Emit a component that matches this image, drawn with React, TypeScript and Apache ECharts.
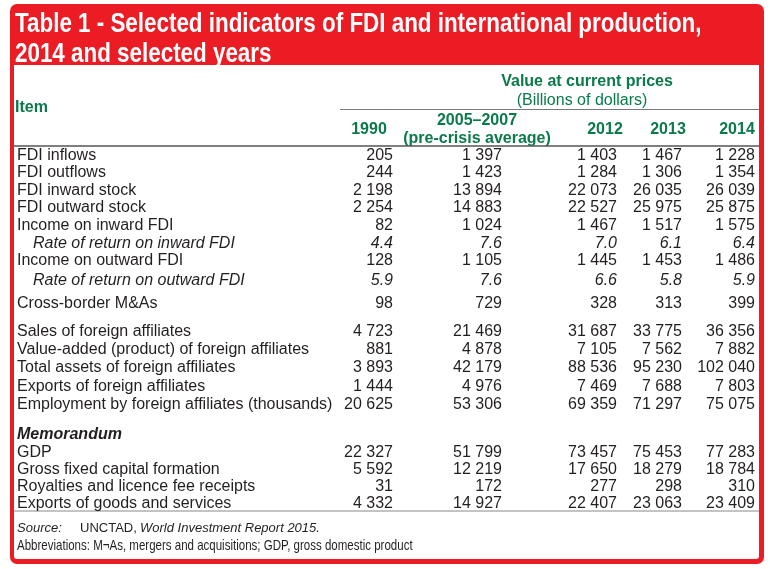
import React, { useEffect, useRef } from "react";
import * as echarts from "echarts";

// ---------- data ----------
const titleLines = [
  "Table 1 - Selected indicators of FDI and international production,",
  "2014 and selected years",
];
const columnHeaders = ["1990", "2005–2007\n(pre-crisis average)", "2012", "2013", "2014"];
const items = [
  "FDI inflows",
  "FDI outflows",
  "FDI inward stock",
  "FDI outward stock",
  "Income on inward FDI",
  "Rate of return on inward FDI",
  "Income on outward FDI",
  "Rate of return on outward FDI",
  "Cross-border M&As",
  "Sales of foreign affiliates",
  "Value-added (product) of foreign affiliates",
  "Total assets of foreign affiliates",
  "Exports of foreign affiliates",
  "Employment by foreign affiliates (thousands)",
  "Memorandum",
  "GDP",
  "Gross fixed capital formation",
  "Royalties and licence fee receipts",
  "Exports of goods and services",
];
// row kinds: n = normal, r = rate (italic, indented, 1 decimal), h = heading
const rowKinds = ["n", "n", "n", "n", "n", "r", "n", "r", "n", "n", "n", "n", "n", "n", "h", "n", "n", "n", "n"];
const v1990 = [205, 244, 2198, 2254, 82, 4.4, 128, 5.9, 98, 4723, 881, 3893, 1444, 20625, null, 22327, 5592, 31, 4332];
const v2005 = [1397, 1423, 13894, 14883, 1024, 7.6, 1105, 7.6, 729, 21469, 4878, 42179, 4976, 53306, null, 51799, 12219, 172, 14927];
const v2012 = [1403, 1284, 22073, 22527, 1467, 7.0, 1445, 6.6, 328, 31687, 7105, 88536, 7469, 69359, null, 73457, 17650, 277, 22407];
const v2013 = [1467, 1306, 26035, 25975, 1517, 6.1, 1453, 5.8, 313, 33775, 7562, 95230, 7688, 71297, null, 75453, 18279, 298, 23063];
const v2014 = [1228, 1354, 26039, 25875, 1575, 6.4, 1486, 5.9, 399, 36356, 7882, 102040, 7803, 75075, null, 77283, 18784, 310, 23409];
const valueColumns = [v1990, v2005, v2012, v2013, v2014];
const groupHeader = "Value at current prices";
const unitHeader = "(Billions of dollars)";
const itemHeader = "Item";
const sourceParts = ["Source:", "UNCTAD,", "World Investment Report 2015."];
const abbreviations = "Abbreviations: M¬As, mergers and acquisitions; GDP, gross domestic product";

// ---------- layout ----------
const W = 770;
const H = 569;
const RED = "#ec1c24";
const GREEN = "#0a7a4a";
const INK = "#231f20";
const FONT = "'Liberation Sans', Arial, Helvetica, sans-serif";
const colRight = [393, 502, 617, 682, 755];
const headerCenter = [369, 477, 605, 668, 737];
const rowY = [154, 171.5, 189, 206.5, 224, 242, 259.5, 279.5, 302, 330, 348, 366.5, 385, 403, 433, 451.5, 468.5, 485.5, 502.5];
const labelX = 17;
const indentX = 33;

function fmt(v: number, kind: string) {
  if (kind === "r") return v.toFixed(1);
  return String(v).replace(/\B(?=(\d{3})+(?!\d))/g, " ");
}

function measure(text: string, font: string) {
  const c = document.createElement("canvas");
  const ctx = c.getContext("2d")!;
  ctx.font = font;
  return ctx.measureText(text).width;
}

export default function App() {
  const ref = useRef<HTMLDivElement>(null);
  useEffect(() => {
    if (!ref.current) return;
    const chart = echarts.init(ref.current, null, { renderer: "svg", width: W, height: H });

    type Cell = { x: number; y: number; text: string; kind: string; num: boolean };
    const cells: Cell[] = [];
    items.forEach((name, i) => {
      const kind = rowKinds[i];
      cells.push({ x: kind === "r" ? indentX : labelX, y: rowY[i], text: name, kind, num: false });
      valueColumns.forEach((col, c) => {
        const v = col[i];
        if (v === null || v === undefined) return;
        cells.push({ x: colRight[c], y: rowY[i], text: fmt(v, kind), kind, num: true });
      });
    });

    const titleFont = `bold 27px ${FONT}`;
    const titleScale = 687 / measure(titleLines[0], titleFont);
    const abbrFont = `14px ${FONT}`;
    const abbrScale = 396 / measure(abbreviations, abbrFont);

    const graphic: any[] = [
      { type: "rect", z: 0, shape: { x: 10, y: 4, width: 754, height: 560, r: 7 }, style: { fill: RED } },
      { type: "rect", z: 1, shape: { x: 14, y: 65, width: 745, height: 494, r: [0, 0, 3, 3] }, style: { fill: "#ffffff" } },
      ...titleLines.map((t, i) => ({
        type: "text",
        z: 5,
        x: 15,
        y: 22.5 + i * 30.5,
        scaleX: titleScale,
        style: { text: t, font: titleFont, fill: "#ffffff", verticalAlign: "middle", align: "left" },
      })),
      {
        type: "text", z: 5, x: 15, y: 106,
        style: { text: itemHeader, font: `bold 16px ${FONT}`, fill: GREEN, verticalAlign: "middle" },
      },
      {
        type: "text", z: 5, x: 587, y: 80,
        style: { text: groupHeader, font: `bold 16px ${FONT}`, fill: GREEN, align: "center", verticalAlign: "middle" },
      },
      {
        type: "text", z: 5, x: 582, y: 99,
        style: { text: unitHeader, font: `16px ${FONT}`, fill: GREEN, align: "center", verticalAlign: "middle" },
      },
      ...columnHeaders.map((h, i) => ({
        type: "text", z: 5, x: headerCenter[i], y: 128.5,
        style: { text: h, font: `bold 16px ${FONT}`, lineHeight: 18, fill: GREEN, align: "center", verticalAlign: "middle" },
      })),
      { type: "line", z: 5, shape: { x1: 340, y1: 109.5, x2: 759, y2: 109.5 }, style: { stroke: "#7a7a7a", lineWidth: 1.2 } },
      { type: "line", z: 5, shape: { x1: 14, y1: 146, x2: 759, y2: 146 }, style: { stroke: "#555555", lineWidth: 1.6 } },
      { type: "line", z: 5, shape: { x1: 14, y1: 511, x2: 759, y2: 511 }, style: { stroke: "#888888", lineWidth: 1 } },
      {
        type: "text", z: 5, x: 17, y: 527,
        style: { text: sourceParts[0], font: `italic 13px ${FONT}`, fill: INK, verticalAlign: "middle" },
      },
      {
        type: "text", z: 5, x: 80, y: 527,
        style: { text: sourceParts[1], font: `13px ${FONT}`, fill: INK, verticalAlign: "middle" },
      },
      {
        type: "text", z: 5, x: 140, y: 527,
        style: { text: sourceParts[2], font: `italic 13px ${FONT}`, fill: INK, verticalAlign: "middle" },
      },
      {
        type: "text", z: 5, x: 17, y: 545, scaleX: abbrScale,
        style: { text: abbreviations, font: abbrFont, fill: INK, verticalAlign: "middle" },
      },
    ];

    chart.setOption({
      animation: false,
      grid: { left: 0, top: 0, width: W, height: H, show: false },
      xAxis: { type: "value", min: 0, max: W, show: false },
      yAxis: { type: "value", min: 0, max: H, inverse: true, show: false },
      graphic,
      series: [
        {
          type: "custom",
          z: 10,
          data: cells.map((c) => [c.x, c.y]),
          renderItem: (params: any, api: any) => {
            const cell = cells[params.dataIndex];
            const p = api.coord([api.value(0), api.value(1)]);
            let font = `16px ${FONT}`;
            if (cell.kind === "r") font = `italic 16px ${FONT}`;
            if (cell.kind === "h") font = `italic bold 16px ${FONT}`;
            return {
              type: "text",
              x: p[0],
              y: p[1],
              style: {
                text: cell.text,
                font,
                fill: INK,
                align: cell.num ? "right" : "left",
                verticalAlign: "middle",
              },
            };
          },
        },
      ],
    });
    return () => chart.dispose();
  }, []);
  return <div ref={ref} style={{ position: "fixed", left: 0, top: 0, width: W, height: H }} />;
}
